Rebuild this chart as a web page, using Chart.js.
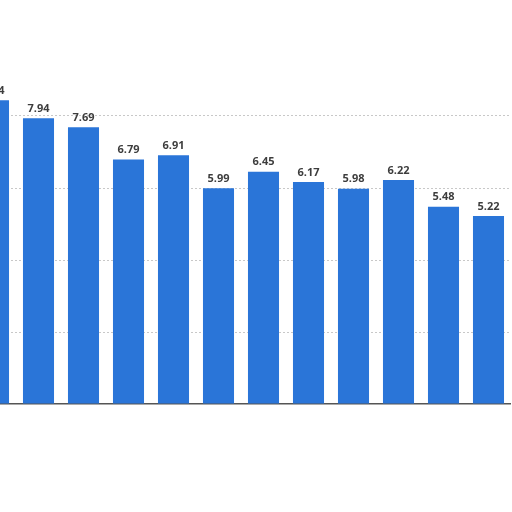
<!DOCTYPE html>
<html>
<head>
<meta charset="utf-8">
<script src="https://cdn.jsdelivr.net/npm/chart.js@4"></script>
<style>
  html, body { margin: 0; padding: 0; background: #fff; overflow: hidden; width: 512px; height: 512px; }
  #wrap { position: absolute; left: -29px; top: 0; }
</style>
</head>
<body>
<div id="wrap"><canvas id="barCanvas" width="540" height="512"></canvas></div>
<script>
// values, left to right (first bar is cut by the frame)
const categories = ["1", "2", "3", "4", "5", "6", "7", "8", "9", "10", "11", "12"];
const values = [8.44, 7.94, 7.69, 6.79, 6.91, 5.99, 6.45, 6.17, 5.98, 6.22, 5.48, 5.22];
const yTicks = [0, 2, 4, 6, 8, 10];

const barColor = "#2a75d8";

// value labels above each bar
const valueLabels = {
  id: "valueLabels",
  afterDatasetsDraw(chart) {
    const ctx = chart.ctx;
    const meta = chart.getDatasetMeta(0);
    ctx.save();
    ctx.font = "bold 11px 'Open Sans'";
    ctx.fillStyle = "#3d3d3d";
    ctx.textAlign = "center";
    ctx.textBaseline = "bottom";
    meta.data.forEach((bar, i) => {
      ctx.fillText(values[i].toFixed(2), bar.x, bar.y - 4);
    });
    ctx.restore();
  }
};

const canvasContext = document.getElementById("barCanvas").getContext("2d");

new Chart(canvasContext, {
  type: "bar",
  data: {
    labels: categories,
    datasets: [{
      data: values,
      backgroundColor: barColor,
      categoryPercentage: 1,
      barPercentage: 0.69
    }]
  },
  options: {
    responsive: false,
    animation: false,
    layout: { padding: { top: 44, bottom: 108, left: 0, right: 0 } },
    plugins: { legend: { display: false }, tooltip: { enabled: false } },
    scales: {
      x: {
        ticks: { display: false },
        grid: { display: false, drawTicks: false },
        border: { display: true, color: "#555", width: 1.5 }
      },
      y: {
        min: yTicks[0],
        max: yTicks[yTicks.length - 1],
        afterBuildTicks: (axis) => { axis.ticks = yTicks.map(v => ({ value: v })); },
        ticks: { display: false },
        grid: {
          drawTicks: false,
          color: (c) => (c.tick && c.tick.value > 0 && c.tick.value < 10) ? "#c8c8c8" : "rgba(0,0,0,0)",
          lineWidth: 1
        },
        border: { display: false, dash: [2, 2] }
      }
    }
  },
  plugins: [valueLabels]
});
</script>
</body>
</html>
